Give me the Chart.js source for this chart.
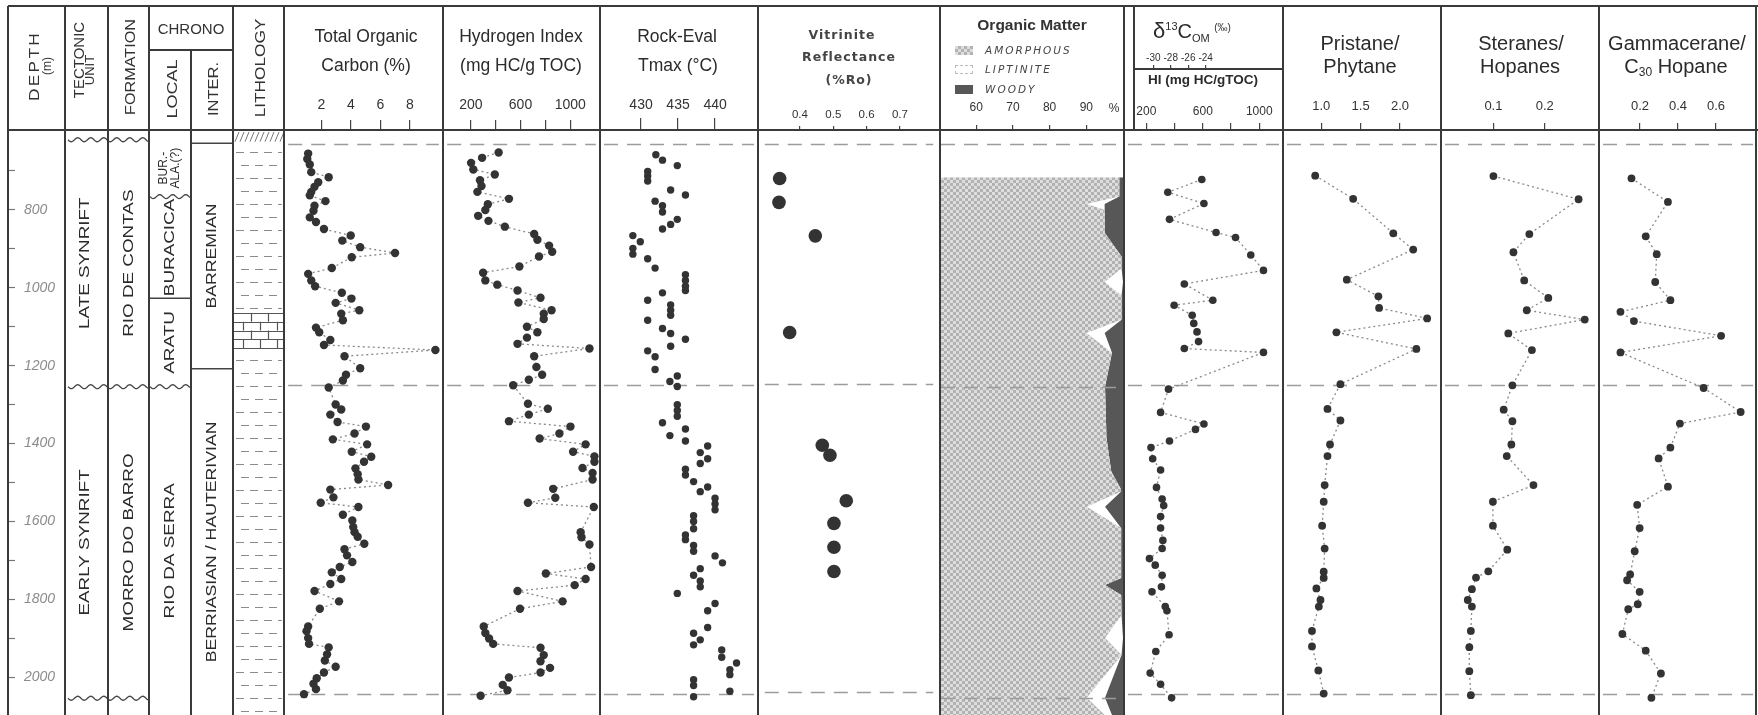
<!DOCTYPE html>
<html><head><meta charset="utf-8">
<script src="https://cdn.jsdelivr.net/npm/chart.js@4.4.1/dist/chart.umd.min.js"></script>
<style>
html,body{margin:0;padding:0;background:#fff;}
body{position:relative;width:1758px;height:715px;overflow:hidden;font-family:'Liberation Sans',Arial,sans-serif;color:#2a2a2a;}
canvas{position:absolute;top:0;}
.t{position:absolute;white-space:nowrap;line-height:1;transform:translate(-50%,-50%);z-index:5;}
.ln{position:absolute;background:#3a3a3a;z-index:6;}
.sw{position:absolute;z-index:5;}
</style></head><body>
<script>
// ================= DATA =================
const depthTicks = [700,800,900,1000,1100,1200,1300,1400,1500,1600,1700,1800,1900,2000];
const boundaryDepths = [632, 1254, 2054];

// stratigraphy
const tectNames = ['LATE SYNRIFT', 'EARLY SYNRIFT'];
const tectTops  = [620, 1254];
const tectBases = [1254, 2054];
const formNames = ['RIO DE CONTAS', 'MORRO DO BARRO'];
const localNames = [['BUR.-','ALA.(?)'], ['BURACICA'], ['ARATU'], ['RIO DA SERRA']];
const localTops  = [620, 766, 1027, 1254];
const localBases = [766, 1027, 1254, 2097];
const interNames = ['BARREMIAN', 'BERRIASIAN / HAUTERIVIAN'];
const interTops  = [629, 1208];
const interBases = [1208, 2097];
const limestoneTop = 1065, limestoneBase = 1155;
const lithTop = 600, shaleTop = 625;

// Total organic carbon (%)
const tocDepth = [656,670,684,704,717,730,742,755,764,779,791,804,821,833,851,868,881,898,913,924,952,967,984,999,1016,1031,1042,1061,1070,1087,1106,1118,1138,1151,1164,1180,1211,1228,1243,1261,1305,1318,1331,1350,1362,1380,1395,1408,1427,1440,1453,1470,1485,1499,1513,1525,1545,1559,1570,1590,1605,1622,1635,1647,1665,1679,1695,1712,1725,1739,1756,1769,1787,1814,1833,1879,1891,1909,1924,1933,1951,1967,1983,1998,2013,2027,2041,2054];
const tocValue = [1.11,1.05,1.22,1.32,2.5,1.79,1.54,1.32,1.22,2.28,1.54,1.47,1.22,1.64,2.18,3.99,3.42,4.63,6.99,4.06,2.71,1.11,1.32,1.58,3.39,4.04,2.97,4.57,3.35,3.46,1.64,1.86,2.61,2.18,9.72,3.57,4.63,3.67,3.46,2.5,2.97,3.35,2.61,3.1,5.02,4.25,2.78,5.1,4.06,5.38,4.89,4.31,4.46,4.51,6.52,2.61,2.82,1.96,4.51,3.46,4.1,4.16,4.25,4.46,4.91,3.57,3.74,4.1,3.25,2.71,3.35,2.61,1.54,3.2,1.9,1.11,1.0,1.11,1.17,2.5,2.39,2.24,2.97,2.18,1.69,1.47,1.64,0.83];

// Hydrogen index (mg HC/g TOC)
const hiDepth = [653,667,680,697,710,725,740,755,773,787,802,817,830,845,864,879,894,910,922,948,964,984,995,1010,1029,1041,1061,1070,1084,1104,1118,1132,1148,1160,1180,1208,1228,1241,1255,1303,1316,1331,1348,1362,1380,1393,1408,1427,1439,1453,1469,1482,1499,1523,1546,1559,1570,1635,1648,1667,1725,1742,1756,1772,1787,1814,1833,1879,1896,1910,1924,1934,1953,1969,1986,1998,2011,2030,2044,2058];
const hiValue = [424,291,202,220,393,274,286,253,507,337,317,259,342,474,710,736,830,855,749,591,299,317,413,576,761,583,850,787,787,652,736,652,576,1155,710,728,774,667,541,660,820,667,507,1002,913,754,1124,1023,1195,1195,1099,1180,1180,863,880,660,1190,1084,1091,1155,1168,804,1124,1036,576,939,596,304,317,347,380,761,787,761,838,761,507,457,495,279];

// Rock-Eval Tmax (°C)
const tmaxDepth = [659,673,687,702,714,727,750,763,779,791,807,826,839,851,868,884,901,916,928,952,969,984,999,1010,1016,1035,1047,1061,1074,1087,1108,1121,1136,1154,1166,1181,1214,1231,1245,1258,1305,1320,1335,1352,1368,1385,1399,1412,1429,1445,1457,1472,1487,1504,1518,1530,1547,1562,1577,1592,1607,1626,1642,1654,1669,1684,1696,1714,1729,1746,1761,1776,1793,1819,1838,1881,1896,1913,1926,1939,1958,1973,1990,2003,2016,2031,2046,2060];
const tmaxValue = [432.0,432.9,434.9,430.9,430.9,430.9,434.0,436.0,431.9,432.9,432.9,434.9,434.0,432.9,428.9,429.9,428.9,428.9,430.9,431.9,436.0,436.0,436.0,436.0,432.9,430.9,434.0,434.0,434.0,430.9,432.9,434.0,436.0,434.0,430.9,431.9,431.9,434.9,433.9,434.9,434.9,434.9,434.9,432.9,436.0,433.9,436.0,439.0,438.0,439.0,438.0,436.0,436.0,437.1,439.0,438.0,440.0,440.0,440.0,437.1,437.1,437.1,436.0,436.0,437.1,437.1,440.0,441.0,438.0,437.1,438.0,438.0,434.9,440.0,439.0,439.0,437.1,438.0,437.1,440.9,440.9,442.9,442.0,442.0,437.1,437.1,442.0,437.1];

// Vitrinite reflectance (%Ro)
const roDepth = [721,783,870,1121,1414,1440,1558,1617,1679,1742];
const roValue = [0.339,0.337,0.446,0.369,0.467,0.490,0.539,0.502,0.502,0.502];

// Organic matter composition (cumulative %, from 50% baseline)
const omDepth = [716,766,785,800,859,920,950,985,1020,1082,1116,1167,1254,1385,1472,1515,1523,1562,1617,1745,1763,1789,1840,1899,1943,2053,2097];
const amorphousEdge = [99,99,90,95,95,99.6,99.6,95,99.6,99.6,90,97,95.1,95.5,96.8,99.3,99.5,90.1,99.5,99.5,95.1,99.5,99.6,95.1,99.6,90.1,95];
const liptiniteEdge = [99,99,95,95,95,99.6,99.6,100,99.6,99.6,95,97,95.1,95.5,96.8,99.3,99.5,95.1,99.5,99.5,95.1,99.5,99.6,100,99.6,95.1,97];

// HI plotted with d13C (mg HC/gTOC)
const hi2Depth = [723,756,785,826,860,873,918,958,993,1035,1048,1074,1095,1117,1142,1160,1170,1265,1325,1355,1369,1399,1416,1445,1474,1519,1549,1566,1594,1624,1656,1677,1703,1720,1746,1776,1789,1827,1838,1900,1943,1999,2028,2063];
const hi2Value = [593,352,608,364,694,832,940,1030,469,671,397,525,536,559,570,469,1030,357,301,608,548,364,233,245,301,272,312,323,301,301,317,312,222,263,312,307,240,334,346,361,267,227,301,379];

// Biomarker ratios
const prDepth = [713,773,862,904,982,1025,1055,1082,1118,1161,1252,1316,1346,1408,1438,1513,1556,1618,1677,1737,1753,1780,1810,1827,1890,1930,1992,2052];
const prValue = [0.924,1.406,1.915,2.168,1.325,1.726,1.735,2.345,1.193,2.208,1.244,1.080,1.244,1.112,1.080,1.044,1.032,1.012,1.044,1.032,1.032,0.939,0.991,0.97,0.883,0.883,0.964,1.032];
const stDepth = [714,774,864,911,984,1029,1061,1085,1121,1164,1255,1318,1348,1408,1438,1513,1556,1618,1680,1736,1752,1782,1810,1827,1890,1932,1994,2056];
const stValue = [0.100,0.266,0.170,0.139,0.160,0.207,0.165,0.278,0.129,0.175,0.137,0.120,0.137,0.135,0.126,0.178,0.099,0.099,0.127,0.090,0.066,0.058,0.050,0.058,0.056,0.053,0.053,0.056];
const gaDepth = [720,781,870,916,988,1035,1065,1089,1127,1170,1262,1324,1354,1416,1444,1517,1564,1624,1684,1744,1759,1789,1821,1834,1898,1941,2000,2063];
const gaValue = [0.155,0.347,0.230,0.288,0.280,0.360,0.097,0.168,0.627,0.097,0.535,0.730,0.410,0.360,0.298,0.347,0.185,0.198,0.172,0.148,0.132,0.198,0.188,0.138,0.107,0.230,0.310,0.260];

// tick labels
const tocTicks = [2,4,6,8], tocLabels = ['2','4','6','8'];
const hiTicks = [200,400,600,800,1000], hiLabels = ['200','','600','','1000'];
const tmaxTicks = [430,435,440], tmaxLabels = ['430','435','440'];
const roTicks = [0.4,0.5,0.6,0.7], roLabels = ['0.4','0.5','0.6','0.7'];
const omTicks = [60,70,80,90], omLabels = ['60','70','80','90'];
const d13Ticks = [-30,-28,-26,-24], d13Labels = ['-30','-28','-26','-24'];
const prTicks = [1.0,1.5,2.0], prLabels = ['1.0','1.5','2.0'];
const stTicks = [0.1,0.2], stLabels = ['0.1','0.2'];
const gaTicks = [0.2,0.4,0.6], gaLabels = ['0.2','0.4','0.6'];

// ================= LAYOUT / HELPERS =================
const H = 715, HDR = 130, Y_MIN = 595, Y_MAX = 2097;
const FF = "'Liberation Sans', Arial, sans-serif";
Chart.defaults.font.family = FF;

function addCanvas(left, width){
  const c = document.createElement('canvas');
  c.width = width; c.height = H;
  c.style.left = left + 'px'; c.style.width = width + 'px'; c.style.height = H + 'px';
  document.body.appendChild(c);
  return c;
}
function drawDashes(ch){
  const {ctx, chartArea:a} = ch; const ys = ch.scales.y;
  ctx.save(); ctx.strokeStyle = '#9c9c9c'; ctx.lineWidth = 1.3; ctx.setLineDash([14,9]);
  boundaryDepths.forEach(d => { const y = Math.round(ys.getPixelForValue(d)) + 0.5;
    ctx.beginPath(); ctx.moveTo(a.left, y); ctx.lineTo(a.right, y); ctx.stroke(); });
  ctx.restore();
}
const dashUnder = { id:'dashUnder', beforeDatasetsDraw: drawDashes };
const dashOver  = { id:'dashOver',  afterDatasetsDraw: drawDashes };

function xAxis(min, max, ticks, labels, fontSize, tl, pad, h, weight){
  return { type:'linear', position:'top', min, max, weight: weight || 0,
    afterBuildTicks: s => { s.ticks = ticks.map(v => ({value:v})); },
    afterFit: s => { s.height = h; s.paddingLeft = 0; s.paddingRight = 0; },
    ticks: { autoSkip:false, maxRotation:0, minRotation:0, padding:pad, color:'#333',
             font:{ size:fontSize, family:FF }, callback:(v,i) => labels[i] },
    grid: { drawOnChartArea:false, drawTicks:true, tickLength:tl, color:'#444', lineWidth:1.2, tickWidth:1.2 },
    border: { display:false } };
}
const yDepth = () => ({ type:'linear', display:false, min:Y_MIN, max:Y_MAX, reverse:true });

function series(depths, vals, opt){
  return Object.assign({ data: depths.map((d,i) => ({x:vals[i], y:d})), showLine:true,
    borderColor:'#8a8a8a', borderWidth:1.3, borderDash:[2,3], pointRadius:4.2, pointBackgroundColor:'#333',
    pointBorderColor:'#333', pointBorderWidth:0, clip:false, tension:0 }, opt || {});
}
function track(left, right, scales, datasets, opts){
  opts = opts || {};
  const c = addCanvas(left, right - left);
  return new Chart(c, { type: opts.type || 'scatter', data:{ datasets },
    options: { responsive:false, animation:false, events:[], devicePixelRatio:1,
      indexAxis: opts.indexAxis || 'x', layout:{ padding:0 },
      plugins:{ legend:{display:false}, tooltip:{enabled:false} }, scales },
    plugins: [opts.dashOnTop ? dashOver : dashUnder] });
}

// ================= DEPTH AXIS =================
(function(){
  const c = addCanvas(-30, 95);
  new Chart(c, { type:'scatter', data:{datasets:[]},
    options:{ responsive:false, animation:false, events:[], devicePixelRatio:1,
      layout:{ padding:{ top:HDR } }, plugins:{ legend:{display:false}, tooltip:{enabled:false} },
      scales:{ x:{ display:false, min:0, max:1 },
        y:{ type:'linear', position:'right', min:Y_MIN, max:Y_MAX, reverse:true,
          afterBuildTicks: s => { s.ticks = depthTicks.map(v => ({value:v})); },
          afterFit: s => { s.width = 57; s.paddingTop = 0; s.paddingBottom = 0; },
          ticks:{ padding:9, color:'#8c8c8c', font:{ size:14, style:'italic', family:FF },
                  callback: v => (v % 200 === 0 ? String(v) : '') },
          grid:{ drawOnChartArea:false, tickLength:7, color:'#777', tickWidth:1.2 },
          border:{ display:false } } } } });
})();

// ================= STRATIGRAPHIC COLUMNS =================
(function(){
  const c = addCanvas(65, 219);
  const cols = { tect:[0,43], form:[43,84], local:[84,126], inter:[126,168], lith:[168,219] };
  function wavy(ctx, x0, x1, yc){
    ctx.beginPath();
    for (let x = x0; x <= x1; x += 1){ const yy = yc + 2 * Math.sin((x - x0) / 13 * 2 * Math.PI);
      if (x === x0) ctx.moveTo(x, yy); else ctx.lineTo(x, yy); }
    ctx.stroke();
  }
  function vtext(ctx, lines, cx, cy, size, sx, lh){
    ctx.save(); ctx.translate(cx, cy); ctx.rotate(-Math.PI/2); ctx.scale(sx, 1);
    ctx.fillStyle = '#2b2b2b'; ctx.font = size + 'px ' + FF; ctx.textAlign = 'center'; ctx.textBaseline = 'middle';
    const n = lines.length;
    lines.forEach((s, i) => ctx.fillText(s, 0, (i - (n - 1) / 2) * lh));
    ctx.restore();
  }
  const strat = { id:'strat', afterDraw(ch){
    const ctx = ch.ctx, ys = ch.scales.y, a = ch.chartArea;
    const Y = d => ys.getPixelForValue(d);
    const mid = (c0) => (c0[0] + c0[1]) / 2;
    ctx.save();
    ctx.strokeStyle = '#444'; ctx.lineWidth = 1.3;
    [620, 1254, 2054].forEach(d => wavy(ctx, 3, 83, Y(d)));
    wavy(ctx, 85, 125, Y(766));
    wavy(ctx, 85, 125, Y(1254));
    ctx.beginPath();
    ctx.moveTo(84, Y(1027)); ctx.lineTo(126, Y(1027));
    interTops.forEach(d => { ctx.moveTo(126, Y(d)); ctx.lineTo(168, Y(d)); });
    ctx.stroke();
    tectNames.forEach((s, i) => vtext(ctx, [s], mid(cols.tect) - 2, (Y(tectTops[i]) + Y(tectBases[i])) / 2, 14.5, 1.3, 0));
    formNames.forEach((s, i) => vtext(ctx, [s], mid(cols.form), (Y(tectTops[i]) + Y(tectBases[i])) / 2, 14.5, 1.3, 0));
    localNames.forEach((s, i) => {
      const small = s.length > 1;
      vtext(ctx, s, mid(cols.local), (Y(localTops[i]) + Y(localBases[i])) / 2, small ? 12 : 14.5, small ? 1.0 : 1.3, 12);
    });
    interNames.forEach((s, i) => vtext(ctx, [s], mid(cols.inter), (Y(interTops[i]) + Y(interBases[i])) / 2, 14.5, 1.22, 0));
    const lx0 = cols.lith[0] + 2, lx1 = cols.lith[1] - 2;
    ctx.lineWidth = 1; ctx.strokeStyle = '#777';
    ctx.beginPath();
    for (let x = lx0; x < lx1; x += 5){ ctx.moveTo(x, Y(shaleTop)); ctx.lineTo(x + 4, Y(lithTop)); }
    ctx.stroke();
    const limT = Y(limestoneTop), limB = Y(limestoneBase);
    ctx.strokeStyle = '#8a8a8a'; ctx.lineWidth = 1.2;
    let row = 0;
    for (let y = Y(shaleTop) + 10; y < a.bottom; y += 13, row++){
      if (y > limT - 4 && y < limB + 4) continue;
      ctx.beginPath();
      for (let x = lx0 + (row % 2 ? 6 : 1); x < lx1 - 3; x += 14){ ctx.moveTo(x, Math.round(y) + 0.5); ctx.lineTo(Math.min(x + 8, lx1), Math.round(y) + 0.5); }
      ctx.stroke();
    }
    ctx.strokeStyle = '#555'; ctx.lineWidth = 1.2;
    ctx.beginPath();
    let r = 0;
    for (let y = limT; y <= limB + 0.5; y += (limB - limT) / 4, r++){
      ctx.moveTo(cols.lith[0], Math.round(y) + 0.5); ctx.lineTo(cols.lith[1], Math.round(y) + 0.5);
      if (y + 2 < limB){
        for (let x = cols.lith[0] + (r % 2 ? 10 : 18); x < cols.lith[1] - 2; x += 17){
          ctx.moveTo(Math.round(x) + 0.5, y); ctx.lineTo(Math.round(x) + 0.5, y + (limB - limT) / 4); }
      }
    }
    ctx.stroke();
    ctx.restore();
  } };
  new Chart(c, { type:'scatter', data:{datasets:[]},
    options:{ responsive:false, animation:false, events:[], devicePixelRatio:1,
      layout:{ padding:{ top:HDR } }, plugins:{ legend:{display:false}, tooltip:{enabled:false} },
      scales:{ x:{ display:false, min:0, max:1 }, y: yDepth() } },
    plugins:[strat] });
})();

// ================= DATA TRACKS =================
track(284, 443, { x: xAxis(-0.24, 9.95, tocTicks, tocLabels, 14, 10, 6, HDR), y: yDepth() },
  [ series(tocDepth, tocValue) ]);
track(443, 600, { x: xAxis(10, 1206, hiTicks, hiLabels, 14, 10, 6, HDR), y: yDepth() },
  [ series(hiDepth, hiValue) ]);
track(600, 758, { x: xAxis(425, 445.26, tmaxTicks, tmaxLabels, 14, 12, 4, HDR), y: yDepth() },
  [ series(tmaxDepth, tmaxValue, { showLine:false, pointRadius:3.7 }) ]);
track(758, 940, { x: xAxis(0.2944, 0.8, roTicks, roLabels, 11.5, 4, 4, HDR), y: yDepth() },
  [ series(roDepth, roValue, { showLine:false, pointRadius:6.8 }) ]);

(function(){
  const pc = document.createElement('canvas'); pc.width = 6; pc.height = 6;
  const g = pc.getContext('2d');
  g.fillStyle = '#dedede'; g.fillRect(0,0,6,6);
  g.fillStyle = '#b2b2b2'; g.fillRect(0,0,3,3); g.fillRect(3,3,3,3);
  const pat = g.createPattern(pc, 'repeat');
  track(941, 1123, { x: xAxis(50.4, 100, omTicks, omLabels, 12, 5, 10, HDR), y: yDepth() }, [
    { label:'Amorphous', data: omDepth.map((d,i) => ({x:amorphousEdge[i], y:d})), fill:{ value:50.4 },
      backgroundColor: pat, borderWidth:0, pointRadius:0, tension:0 },
    { label:'Woody', data: omDepth.map((d,i) => ({x:liptiniteEdge[i], y:d})), fill:{ value:100 },
      backgroundColor:'#575757', borderWidth:0, pointRadius:0, tension:0 }
  ], { type:'line', indexAxis:'y', dashOnTop:true });
})();

track(1124, 1283, {
  x: xAxis(70, 1140, hiTicks, hiLabels, 12, 7, 4, 61, 0),
  x2: xAxis(-32.9, -15.6, d13Ticks, d13Labels, 10, 4, 1, 69, 1),
  y: yDepth() }, [ series(hi2Depth, hi2Value, { pointRadius:3.8 }) ]);

track(1283, 1441, { x: xAxis(0.566, 2.47, prTicks, prLabels, 13, 7, 9, HDR), y: yDepth() },
  [ series(prDepth, prValue, { pointRadius:3.9 }) ]);
track(1441, 1599, { x: xAxis(0.0056, 0.298, stTicks, stLabels, 13, 7, 9, HDR), y: yDepth() },
  [ series(stDepth, stValue, { pointRadius:3.9 }) ]);
track(1599, 1757, { x: xAxis(0.005, 0.795, gaTicks, gaLabels, 13, 7, 9, HDR), y: yDepth() },
  [ series(gaDepth, gaValue, { pointRadius:3.9 }) ]);

// ================= FRAME & HEADER TEXT =================
function L(x, y, w, h, color){ const d = document.createElement('div'); d.className = 'ln';
  d.style.left = x + 'px'; d.style.top = y + 'px'; d.style.width = w + 'px'; d.style.height = h + 'px';
  if (color) d.style.background = color; document.body.appendChild(d); }
[8,65,108,149,233,284,443,600,758,940,1124,1283,1441,1599,1756].forEach(x => L(x - 1, 6, 2, H - 6));
L(190, 50, 2, H - 50);
L(8, 5, 1750, 2);
L(8, 129, 1750, 2);
L(149, 49, 84, 1.5);
L(1133, 5, 2, 125);
L(1133, 68, 150, 1.5);

function T(html, x, y, css, rot, align){
  const d = document.createElement('div'); d.className = 't'; d.innerHTML = html;
  d.style.left = x + 'px'; d.style.top = y + 'px';
  if (css) d.style.cssText += css;
  if (rot) d.style.transform = 'translate(-50%,-50%) rotate(-90deg)' + (rot === true ? '' : ' scaleX(' + rot + ')');
  if (align === 'left') d.style.transform = 'translate(0,-50%)';
  document.body.appendChild(d);
}
const hs = 'font-size:15px;color:#333;';
T('DEPTH', 33, 66, hs + 'letter-spacing:2px', 1.15);
T('(m)', 47, 66, 'font-size:12px;color:#333', true);
T('TECTONIC', 78, 60, hs, 1.0);
T('UNIT', 89, 70, 'font-size:13px;color:#333', true);
T('FORMATION', 129, 67, hs, 1.08);
T('CHRONO', 191, 28, hs);
T('LOCAL', 171, 89, hs, 1.2);
T('INTER.', 212, 89, hs, 1.1);
T('LITHOLOGY', 259, 68, hs, 1.15);

const ts = 'font-size:17.5px;color:#2b2b2b;';
T('Total Organic', 366, 37, ts);
T('Carbon (%)', 366, 66, ts);
T('Hydrogen Index', 521, 37, ts);
T('(mg HC/g TOC)', 521, 66, ts);
T('Rock-Eval', 677, 37, ts);
T('Tmax (°C)', 678, 66, ts);
const vs = "font-family:'DejaVu Sans';font-weight:bold;font-size:12.5px;letter-spacing:1px;color:#444;";
T('Vitrinite', 842, 35, vs);
T('Reflectance', 849, 57, vs);
T('(%Ro)', 849, 80, vs);

T('Organic Matter', 1032, 25, 'font-weight:bold;font-size:15.5px;color:#333');
const ls = "font-family:'DejaVu Sans';font-style:italic;font-size:10.5px;letter-spacing:2px;color:#444;";
T('AMORPHOUS', 985, 50, ls, false, 'left');
T('LIPTINITE', 985, 69, ls, false, 'left');
T('WOODY', 985, 89, ls, false, 'left');
function SW(x, y, css){ const d = document.createElement('div'); d.className = 'sw';
  d.style.cssText += 'left:' + x + 'px;top:' + y + 'px;width:18px;height:9px;' + css; document.body.appendChild(d); }
SW(955, 46, 'background:repeating-conic-gradient(#b2b2b2 0 25%, #dedede 0 50%) 0 0/6px 6px;');
SW(955, 65, 'background:#fff;border:1px dashed #bbb;width:16px;height:7px;');
SW(955, 85, 'background:#575757;');
T('%', 1114, 108, 'font-size:12px;color:#333');

T('<span style="font-size:22px">δ</span><span style="font-size:11px;position:relative;top:-8px">13</span><span style="font-size:20px">C</span><span style="font-size:11px;position:relative;top:4px">OM</span> <span style="font-size:10px;position:relative;top:-7px">(‰)</span>',
  1192, 31, 'color:#2b2b2b');
T('HI (mg HC/gTOC)', 1203, 80, 'font-weight:bold;font-size:13.5px;color:#2b2b2b');

const rs = 'font-size:20px;color:#2b2b2b;';
T('Pristane/', 1360, 43, rs);
T('Phytane', 1360, 66, rs);
T('Steranes/', 1521, 43, rs);
T('Hopanes', 1520, 66, rs);
T('Gammacerane/', 1677, 43, rs);
T('C<span style="font-size:12px;position:relative;top:3px">30</span> Hopane', 1676, 66, rs);
</script>
</body></html>
